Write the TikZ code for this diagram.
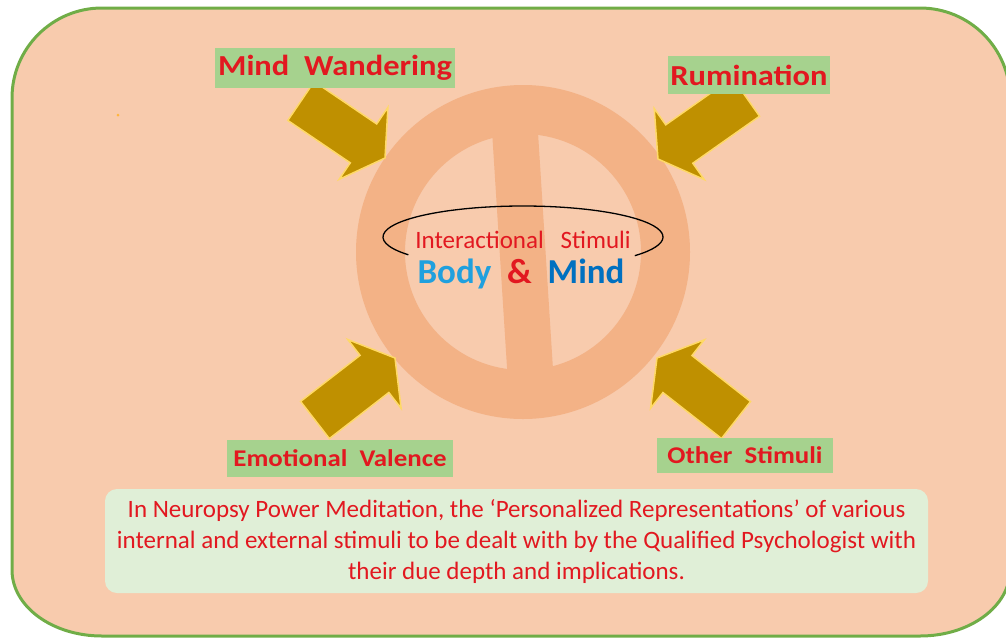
\documentclass[tikz,border=0pt]{standalone}
\usepackage{fontspec}
\setmainfont{Carlito}
\newfontfamily\widefont{Carlito}[FakeStretch=1.12]
\usetikzlibrary{shapes.geometric, arrows, positioning, calc}

\definecolor{peach}{RGB}{248,203,173}
\definecolor{ringpeach}{RGB}{243,178,134}
\definecolor{framegreen}{RGB}{112,173,71}
\definecolor{labelgreen}{RGB}{166,210,142}
\definecolor{notegreen}{RGB}{224,239,215}
\definecolor{arrowgold}{RGB}{191,144,0}
\definecolor{arrowrim}{RGB}{255,217,102}
\definecolor{textred}{RGB}{226,24,32}
\definecolor{bodyblue}{RGB}{32,160,222}
\definecolor{mindblue}{RGB}{0,112,192}

% block arrow from a tail coordinate to a tip coordinate
\newcommand{\stimarrow}[2]{%
  \coordinate (#1-base) at ($(#2)!26pt!(#1)$);
  \fill[stim] ($(#1)!23.5pt!90:(#2)$) -- ($(#1-base)!23.5pt!90:(#2)$)
    -- ($(#1-base)!43.5pt!90:(#2)$) -- (#2)
    -- ($(#1-base)!43.5pt!-90:(#2)$) -- ($(#1-base)!23.5pt!-90:(#2)$)
    -- ($(#1)!23.5pt!-90:(#2)$) -- cycle;}

\begin{document}
\begin{tikzpicture}[x=1pt, y=-1pt,
    frame/.style={fill=peach, draw=framegreen, line width=3pt},
    stim/.style={fill=arrowgold, draw=arrowrim, line width=1.5pt, line join=miter},
    label/.style={fill=labelgreen, text=textred, inner sep=0pt, align=center,
        font=\widefont\fontsize{24}{24}\selectfont\bfseries},
    toplabel/.style={label, font=\widefont\fontsize{29}{29}\selectfont\bfseries},
    note/.style={fill=notegreen, rounded corners=12pt, text=textred, align=center,
        minimum width=823pt, minimum height=104pt, inner sep=0pt,
        font=\fontsize{25}{31}\selectfont}
]
    \useasboundingbox (0,0) rectangle (1006,638);
    \clip (0,0) rectangle (1006,638);

    % outer frame
    \draw[frame] (12,98) -- (12,570)
        arc[start angle=180, end angle=90, x radius=90, y radius=66] -- (920,636)
        arc[start angle=90, end angle=0, x radius=90, y radius=66] -- (1010,98)
        arc[start angle=0, end angle=-90, x radius=90, y radius=90] -- (102,8)
        arc[start angle=-90, end angle=-180, x radius=90, y radius=90] -- cycle;
    \fill[arrowrim!60!orange] (118,115) circle (1.5);

    % no-symbol ring
    \coordinate (hub) at (523,252);
    \fill[ringpeach, even odd rule] (hub) circle (167) circle (118);
    \begin{scope}
        \clip (hub) circle (120);
        \fill[ringpeach] (490,99) -- (536,101) -- (555,401) -- (509,399) -- cycle;
    \end{scope}

    % arrows
    \coordinate (wander-tail) at (301,101);  \coordinate (wander-tip) at (385,158);
    \coordinate (rumin-tail) at (746,97);    \coordinate (rumin-tip) at (658,159);
    \coordinate (valence-tail) at (315,420); \coordinate (valence-tip) at (395,358);
    \coordinate (other-tail) at (736,420);   \coordinate (other-tip) at (657,358);
    \stimarrow{wander-tail}{wander-tip}
    \stimarrow{rumin-tail}{rumin-tip}
    \stimarrow{valence-tail}{valence-tip}
    \stimarrow{other-tail}{other-tip}

    % labels
    \node[toplabel, minimum width=240pt, minimum height=40pt] (wander) at (335,68) {Mind~~Wandering};
    \node[toplabel, minimum width=162pt, minimum height=38pt] (rumin) at (749,75) {Rumination};
    \node[label, minimum width=226pt, minimum height=37pt] (valence) at (340,458) {Emotional~~Valence};
    \node[label, minimum width=176pt, minimum height=35pt] (other) at (745,455) {Other~~Stimuli};

    % centre
    \coordinate (loop) at (523,237);
    \draw[line width=1.3pt] (loop) ++(145:140 and 31)
        arc[start angle=145, end angle=397, x radius=140, y radius=31];
    \node[anchor=base, text=textred, font=\fontsize{25}{25}\selectfont] (interact) at (523,248)
        {Interactional~~~Stimuli};
    \node[anchor=base, font=\fontsize{35}{35}\selectfont\bfseries] (bodymind) at (521,283)
        {\textcolor{bodyblue}{Body}~~\textcolor{textred}{\&}~~\textcolor{mindblue}{Mind}};

    % note
    \node[note] (note) at (516.5,541) {In Neuropsy Power Meditation, the ‘Personalized Representations’ of various\\
        internal and external stimuli to be dealt with by the Qualified Psychologist with\\
        their due depth and implications.};
\end{tikzpicture}
\end{document}
